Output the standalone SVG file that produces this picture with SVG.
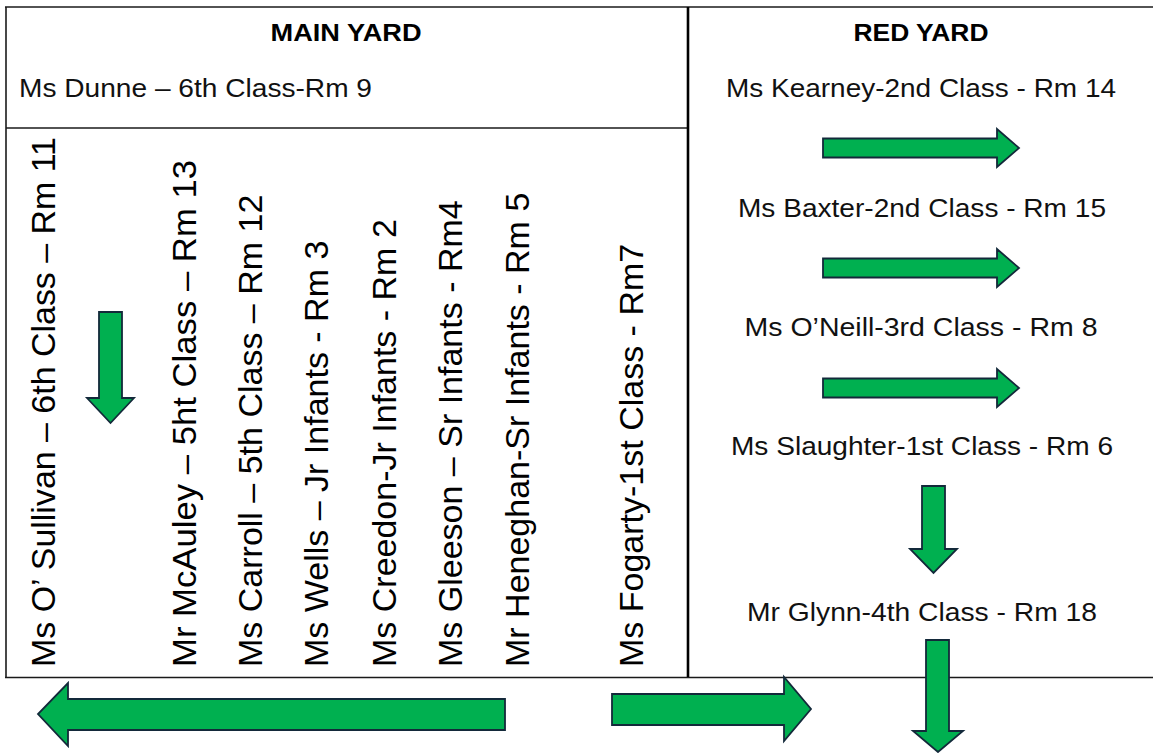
<svg xmlns="http://www.w3.org/2000/svg" width="1153" height="753" viewBox="0 0 1153 753">
  <style>
    .frame { stroke: #1a1a1a; stroke-width: 1.6; fill: none; }
    .divider { stroke: #000; stroke-width: 2.6; fill: none; }
    .head { font-family: "Liberation Sans", Arial, sans-serif; font-weight: bold; font-size: 24px; fill: #000; }
    .lbl { font-family: "Liberation Sans", Arial, sans-serif; font-size: 25px; fill: #111; }
    .vlbl { font-family: "Liberation Sans", Arial, sans-serif; font-size: 34px; fill: #000; }
    .arrow { fill: #00B050; stroke: #13293a; stroke-width: 1.8; stroke-linejoin: miter; }
  </style>

  <rect width="1153" height="753" fill="#fff"/>

  <!-- yard outlines -->
  <g id="frame">
    <line class="frame" x1="5" y1="7" x2="1153" y2="7" stroke="#333"/>
    <line class="frame" x1="6" y1="7" x2="6" y2="678"/>
    <line class="frame" x1="6" y1="128" x2="688" y2="128"/>
    <line class="frame" x1="5" y1="677.5" x2="1153" y2="677.5"/>
    <line class="divider" x1="688" y1="7" x2="688" y2="677"/>
  </g>

  <!-- Main yard -->
  <g id="main-yard-title">
    <text class="head" x="346" y="41" text-anchor="middle" textLength="151" lengthAdjust="spacingAndGlyphs">MAIN YARD</text>
  </g>
  <g id="dunne">
    <text class="lbl" x="19" y="97" textLength="353" lengthAdjust="spacingAndGlyphs">Ms Dunne – 6th Class-Rm 9</text>
  </g>
  <g id="osullivan">
    <text class="vlbl" transform="translate(55,667) rotate(-90)" textLength="530" lengthAdjust="spacingAndGlyphs">Ms O’ Sullivan – 6th Class – Rm 11</text>
  </g>
  <g id="mcauley">
    <text class="vlbl" transform="translate(196,667) rotate(-90)" textLength="507" lengthAdjust="spacingAndGlyphs">Mr McAuley – 5ht Class – Rm 13</text>
  </g>
  <g id="carroll">
    <text class="vlbl" transform="translate(262,667) rotate(-90)">Ms Carroll – 5th Class – Rm 12</text>
  </g>
  <g id="wells">
    <text class="vlbl" transform="translate(328,667) rotate(-90)">Ms Wells – Jr Infants - Rm 3</text>
  </g>
  <g id="creedon">
    <text class="vlbl" transform="translate(396,667) rotate(-90)">Ms Creedon-Jr Infants - Rm 2</text>
  </g>
  <g id="gleeson">
    <text class="vlbl" transform="translate(462,667) rotate(-90)">Ms Gleeson – Sr Infants - Rm4</text>
  </g>
  <g id="heneghan">
    <text class="vlbl" transform="translate(529,667) rotate(-90)">Mr Heneghan-Sr Infants - Rm 5</text>
  </g>
  <g id="fogarty">
    <text class="vlbl" transform="translate(643,667) rotate(-90)">Ms Fogarty-1st Class - Rm7</text>
  </g>

  <!-- Red yard -->
  <g id="red-yard-title">
    <text class="head" x="921" y="41" text-anchor="middle" textLength="135" lengthAdjust="spacingAndGlyphs">RED YARD</text>
  </g>
  <g id="kearney">
    <text class="lbl" x="921" y="97" text-anchor="middle" textLength="390" lengthAdjust="spacingAndGlyphs">Ms Kearney-2nd Class - Rm 14</text>
  </g>
  <g id="baxter">
    <text class="lbl" x="922" y="217" text-anchor="middle" textLength="368" lengthAdjust="spacingAndGlyphs">Ms Baxter-2nd Class - Rm 15</text>
  </g>
  <g id="oneill">
    <text class="lbl" x="921" y="336" text-anchor="middle" textLength="353" lengthAdjust="spacingAndGlyphs">Ms O’Neill-3rd Class - Rm 8</text>
  </g>
  <g id="slaughter">
    <text class="lbl" x="922" y="455" text-anchor="middle" textLength="382" lengthAdjust="spacingAndGlyphs">Ms Slaughter-1st Class - Rm 6</text>
  </g>
  <g id="glynn">
    <text class="lbl" x="922" y="621" text-anchor="middle" textLength="350" lengthAdjust="spacingAndGlyphs">Mr Glynn-4th Class - Rm 18</text>
  </g>

  <!-- block arrows showing the walking order -->
  <g id="connectors">
    <polygon class="arrow" points="99,312 122,312 122,398 134,398 110.5,423 87,398 99,398"/>
    <polygon class="arrow" points="823,138.5 997,138.5 997,129 1019,148 997,167 997,157.5 823,157.5"/>
    <polygon class="arrow" points="823,258.5 997,258.5 997,249 1019,268 997,287 997,277.5 823,277.5"/>
    <polygon class="arrow" points="823,378.5 997,378.5 997,369 1019,388 997,407 997,397.5 823,397.5"/>
    <polygon class="arrow" points="922,486 945,486 945,549 957,549 933.5,573 910,549 922,549"/>
    <polygon class="arrow" points="926,640 949,640 949,731 963,731 938,752 913,731 926,731"/>
    <polygon class="arrow" points="505,699 68,699 68,683 38,714 68,746 68,730 505,730"/>
    <polygon class="arrow" points="612,694 784,694 784,677 811,709 784,741 784,725 612,725"/>
  </g>
</svg>
